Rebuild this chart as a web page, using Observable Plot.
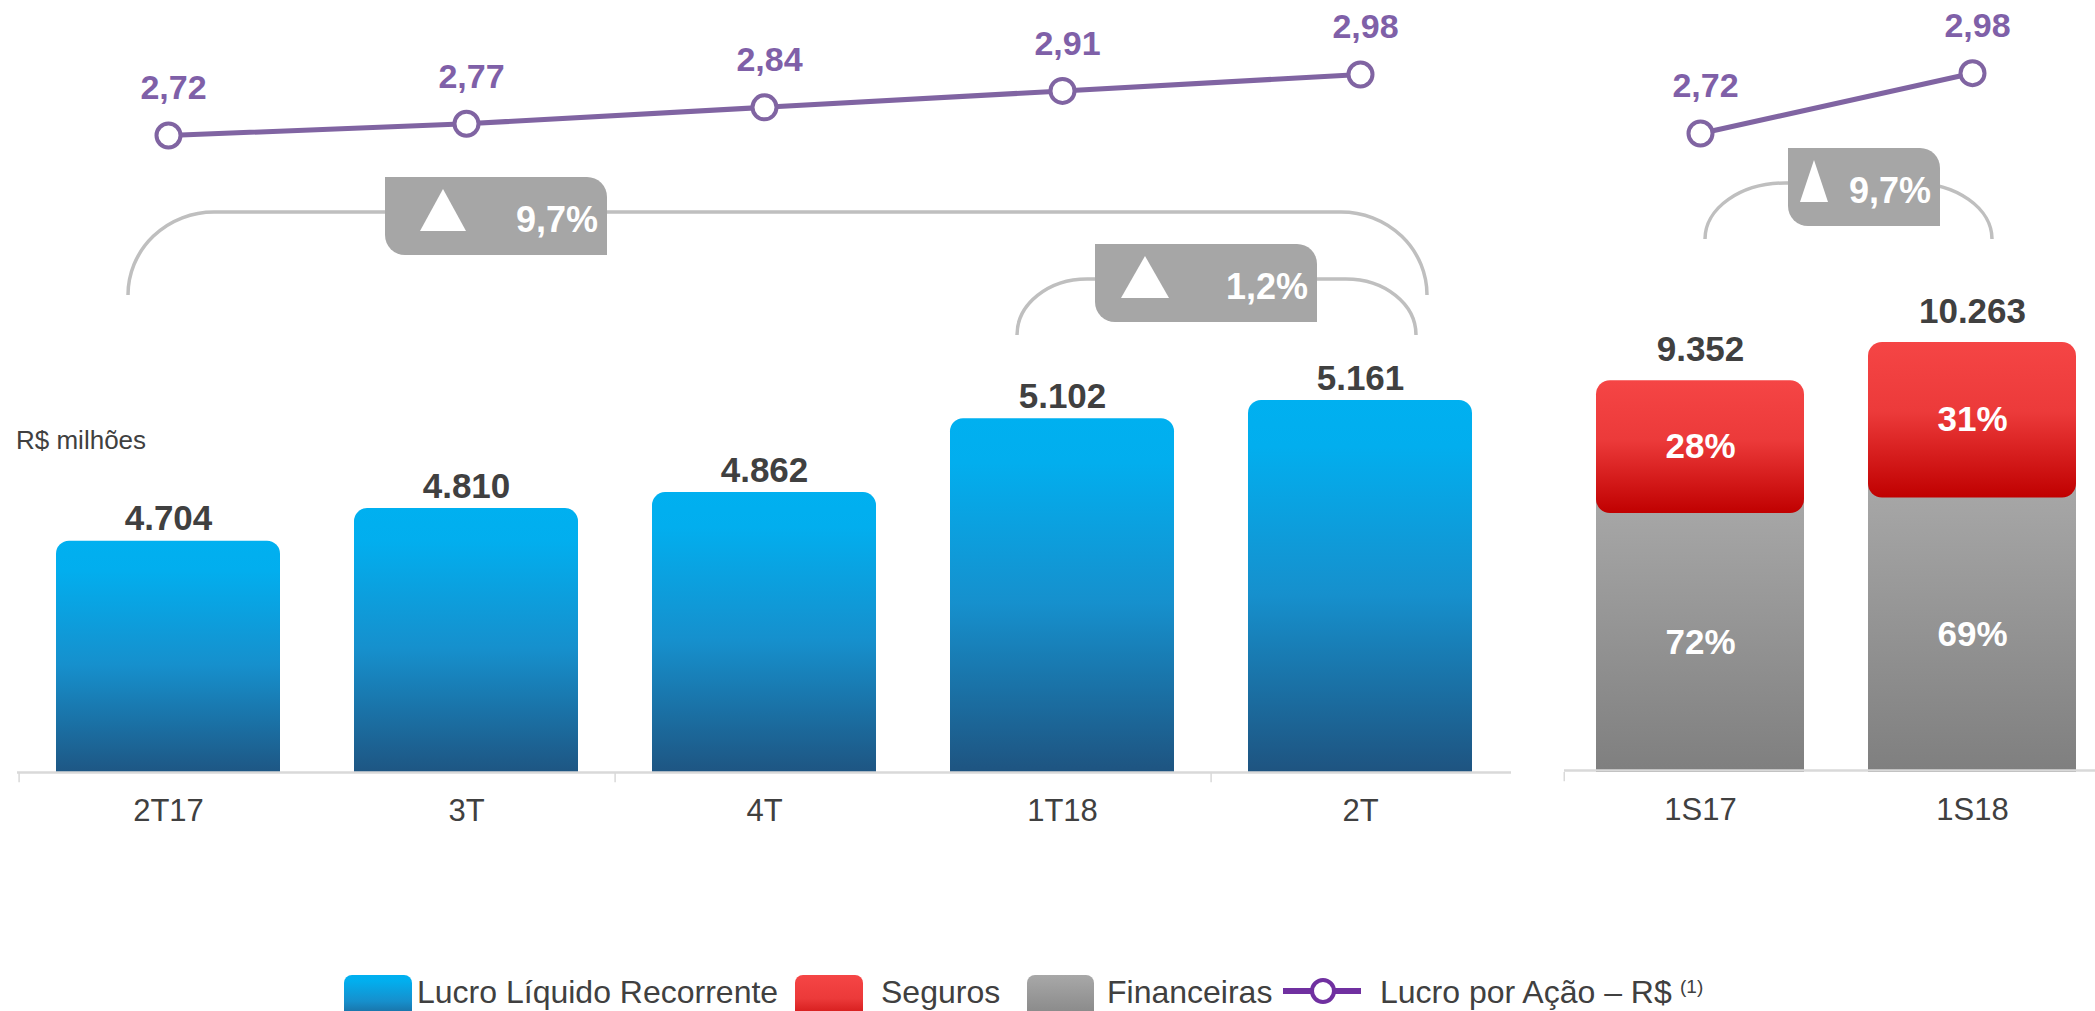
<!DOCTYPE html>
<html>
<head>
<meta charset="utf-8">
<script src="https://cdn.jsdelivr.net/npm/d3@7"></script>
<script src="https://cdn.jsdelivr.net/npm/@observablehq/plot@0.6"></script>
<style>
  body { margin: 0; background: #ffffff; }
  #chart { position: relative; width: 2095px; height: 1011px; overflow: hidden; background: #fff;
           font-family: "Liberation Sans", Arial, Helvetica, sans-serif; color: #404040; }
  .lg { position: absolute; }
  .lg-sw { top: 975px; height: 52px; border-radius: 8px; }
  .lg-tx { top: 976px; font-size: 32px; line-height: 32px; white-space: nowrap; color: #404040; }
  .unit { position: absolute; left: 16px; top: 427px; font-size: 26px; line-height: 26px; color: #404040; white-space: nowrap; }
</style>
</head>
<body>
<div id="chart"></div>
<script>
// ---------------- data ----------------
const quarters = ["2T17", "3T", "4T", "1T18", "2T"];
const lucro = [4704, 4810, 4862, 5102, 5161];
const lucroLabels = ["4.704", "4.810", "4.862", "5.102", "5.161"];
const epsQuarter = [2.72, 2.77, 2.84, 2.91, 2.98];
const epsQuarterLabels = ["2,72", "2,77", "2,84", "2,91", "2,98"];

const semesters = ["1S17", "1S18"];
const totalSem = [9352, 10263];
const totalSemLabels = ["9.352", "10.263"];
const financeiras = [6180, 6550];   // grey segment as drawn
const seguros = [3172, 3713];       // red segment as drawn
const financeirasPct = ["72%", "69%"];
const segurosPct = ["28%", "31%"];
const epsSem = [2.72, 2.98];
const epsSemLabels = ["2,72", "2,98"];

const growthQuarter = [
  {from: "2T17", to: "2T", label: "9,7%"},
  {from: "1T18", to: "2T", label: "1,2%"}
];
const growthSem = [{from: "1S17", to: "1S18", label: "9,7%"}];

const legendLabels = ["Lucro Líquido Recorrente", "Seguros", "Financeiras", "Lucro por Ação – R$"];
const legendNote = "(1)";
const unitLabel = "R$ milhões";

// ---------------- tables ----------------
const leftRows = quarters.map((q, i) => ({q, v: lucro[i], label: lucroLabels[i], eps: epsQuarter[i], epsLabel: epsQuarterLabels[i]}));
const rightRows = semesters.map((s, i) => ({s, total: totalSem[i], label: totalSemLabels[i], fin: financeiras[i], seg: seguros[i],
  finPct: financeirasPct[i], segPct: segurosPct[i], eps: epsSem[i], epsLabel: epsSemLabels[i]}));

// ---------------- styling ----------------
const FONT = "'Liberation Sans', Arial, Helvetica, sans-serif";
const W = 2095, H = 960;
const svgStyle = `background:transparent;overflow:visible;position:absolute;left:0;top:0;font-family:${FONT};`;
const BLUE = [[0, "#00B0F0"], [0.12, "#02AEEE"], [0.5, "#1690CD"], [1, "#1F4E79"]];
const RED = [[0, "#F54545"], [0.45, "#EC3A3A"], [1, "#C00000"]];
const GRAY = [[0, "#A8A8A8"], [1, "#7F7F7F"]];
const PURPLE = "#8064A2";
const AXIS = "#D9D9D9";
const TEXT = "#404040";

function gradientDefs(list) {
  return () => {
    const defs = d3.create("svg:defs");
    for (const [id, stops] of list) {
      const g = defs.append("linearGradient").attr("id", id).attr("x1", 0).attr("y1", 0).attr("x2", 0).attr("y2", 1);
      for (const [o, c] of stops) g.append("stop").attr("offset", o).attr("stop-color", c);
    }
    return defs.node();
  };
}

// left band scale
const L = {ml: 17, mr: 584, pi: 0.247, po: 0.1235};
const leftX = {type: "band", domain: quarters, paddingInner: L.pi, paddingOuter: L.po, axis: null};
const lStep = (W - L.ml - L.mr) / (quarters.length - L.pi + 2 * L.po);
// right band scale
const R = {ml: 1564, r0: 1596, r1: 2077, pi: 0.235};
const rightX = {type: "band", domain: semesters, range: [R.r0, R.r1], paddingInner: R.pi, paddingOuter: 0, axis: null};
const rStep = (R.r1 - R.r0) / (semesters.length - R.pi);
const rBw = rStep * (1 - R.pi);

// ---------------- left bars ----------------
const leftBars = Plot.plot({
  width: W, height: H,
  marginLeft: L.ml, marginRight: L.mr, marginTop: 400, marginBottom: H - 773,
  style: svgStyle,
  x: leftX,
  y: {domain: [3950, 5161], axis: null},
  marks: [
    gradientDefs([["gBlue", BLUE]]),
    Plot.barY(leftRows, {x: "q", y1: 3900, y2: "v", fill: "url(#gBlue)", rx: 13, clip: true}),
    Plot.ruleY([3950], {stroke: AXIS, strokeWidth: 2.5, dy: -1}),
    Plot.ruleX(["2T17", "4T", "2T"], {x: d => d, y1: 3950, y2: 3920, stroke: AXIS, strokeWidth: 1.5, dx: -lStep / 2}),
    Plot.text(leftRows, {x: "q", y: "v", text: "label", dy: -11, lineAnchor: "bottom", fontSize: 35, fontWeight: "bold", fill: TEXT}),
    Plot.text(leftRows, {x: "q", text: "q", frameAnchor: "bottom", dy: 25, lineAnchor: "top", fontSize: 31, fill: TEXT})
  ]
});

// ---------------- right bars ----------------
const rightBars = Plot.plot({
  width: W, height: H,
  marginLeft: R.ml, marginRight: 0, marginTop: 342, marginBottom: H - 772,
  style: svgStyle,
  x: rightX,
  y: {domain: [0, 10263], axis: null},
  marks: [
    gradientDefs([["gRed", RED], ["gGray", GRAY]]),
    Plot.barY(rightRows, {x: "s", y1: 0, y2: "fin", insetTop: -16, fill: "url(#gGray)"}),
    Plot.barY(rightRows, {x: "s", y1: "fin", y2: d => d.fin + d.seg, rx: 14, fill: "url(#gRed)"}),
    Plot.ruleY([0], {stroke: AXIS, strokeWidth: 2.5, dy: -2}),
    Plot.ruleX(["1S17"], {x: d => d, y1: 0, y2: -220, stroke: AXIS, strokeWidth: 1.5, dx: R.ml - (R.r0 + rBw / 2)}),
    Plot.text(rightRows, {x: "s", y: "total", text: "label", dy: -20, lineAnchor: "bottom", fontSize: 35, fontWeight: "bold", fill: TEXT}),
    Plot.text(rightRows, {x: "s", y: d => d.fin + d.seg / 2, text: "segPct", lineAnchor: "middle", fontSize: 35, fontWeight: "bold", fill: "white"}),
    Plot.text(rightRows, {x: "s", y: d => d.fin / 2, text: "finPct", lineAnchor: "middle", fontSize: 35, fontWeight: "bold", fill: "white"}),
    Plot.text(rightRows, {x: "s", text: "s", frameAnchor: "bottom", dy: 25, lineAnchor: "top", fontSize: 31, fill: TEXT})
  ]
});

// ---------------- EPS lines ----------------
function epsPlot(rows, xKey, xOpts, margins, yRange) {
  return Plot.plot({
    width: W, height: H,
    marginLeft: margins[0], marginRight: margins[1], marginTop: 0, marginBottom: 0,
    style: svgStyle,
    x: xOpts,
    y: {domain: [2.72, 2.98], range: yRange, axis: null},
    marks: [
      Plot.line(rows, {x: xKey, y: "eps", stroke: PURPLE, strokeWidth: 5}),
      Plot.dot(rows, {x: xKey, y: "eps", r: 12, fill: "white", stroke: PURPLE, strokeWidth: 4}),
      Plot.text(rows, {x: xKey, y: "eps", text: "epsLabel", dy: -47, dx: 5, lineAnchor: "middle", fontSize: 34, fontWeight: "bold", fill: "#7F60A8"})
    ]
  });
}
const leftLine = epsPlot(leftRows, "q", leftX, [L.ml, L.mr], [135, 74]);
const rightLine = epsPlot(rightRows, "s", rightX, [R.ml, 0], [133, 72.7]);

// ---------------- growth brackets ----------------
const bracketLayout = [
  {plot: leftLine, spec: growthQuarter[0], dl: -40, dr: 67, yTop: 212, yBot: 295, rx: 86, badgeLeft: 257, badgeW: 222, triW: 46, triLeft: 35},
  {plot: leftLine, spec: growthQuarter[1], dl: -45, dr: 56, yTop: 279, yBot: 335, rx: 70, badgeLeft: 78, badgeW: 222, triW: 48, triLeft: 26},
  {plot: rightLine, spec: growthSem[0], dl: 5, dr: 20, yTop: 183, yBot: 239, rx: 80, badgeLeft: 83, badgeW: 152, triW: 28, triLeft: 12}
];
function bandCenter(plot, key) {
  const s = plot.scale("x");
  return s.apply(key) + (s.bandwidth || 0) / 2;
}
for (const b of bracketLayout) {
  const g = d3.select(b.plot).append("g");
  const xl = bandCenter(b.plot, b.spec.from) + b.dl;
  const xr = bandCenter(b.plot, b.spec.to) + b.dr;
  const ry = b.yBot - b.yTop;
  g.append("path")
    .attr("d", `M${xl},${b.yBot} A${b.rx},${ry} 0 0 1 ${xl + b.rx},${b.yTop} L${xr - b.rx},${b.yTop} A${b.rx},${ry} 0 0 1 ${xr},${b.yBot}`)
    .attr("fill", "none").attr("stroke", "#BFBFBF").attr("stroke-width", 3.5);
  const bx = xl + b.badgeLeft, by = b.yTop - 35, bw = b.badgeW, bh = 78, r = 20;
  g.append("path")
    .attr("d", `M${bx},${by} L${bx + bw - r},${by} A${r},${r} 0 0 1 ${bx + bw},${by + r} L${bx + bw},${by + bh} L${bx + r},${by + bh} A${r},${r} 0 0 1 ${bx},${by + bh - r} Z`)
    .attr("fill", "#A6A6A6");
  const tx = bx + b.triLeft, ty = by + 12, th = 42;
  g.append("path").attr("d", `M${tx},${ty + th} L${tx + b.triW / 2},${ty} L${tx + b.triW},${ty + th} Z`).attr("fill", "white");
  g.append("text").attr("x", bx + bw - 9).attr("y", by + bh / 2 + 3).attr("dy", "0.35em")
    .attr("text-anchor", "end").attr("fill", "white").attr("font-size", 36).attr("font-weight", "bold")
    .text(b.spec.label);
}

// ---------------- assemble ----------------
const chart = document.getElementById("chart");
chart.append(leftBars, rightBars, leftLine, rightLine);

const unit = document.createElement("div");
unit.className = "unit";
unit.textContent = unitLabel;
chart.append(unit);

// legend (below the plot area)
function el(cls, left, extra) {
  const d = document.createElement("div");
  d.className = "lg " + cls;
  d.style.left = left + "px";
  if (extra) Object.assign(d.style, extra);
  chart.append(d);
  return d;
}
const css = stops => `linear-gradient(to bottom, ${stops.map(([o, c]) => `${c} ${o * 100}%`).join(", ")})`;
el("lg-sw", 344, {width: "68px", background: css(BLUE)});
el("lg-tx", 417).textContent = legendLabels[0];
el("lg-sw", 795, {width: "68px", background: css(RED)});
el("lg-tx", 881).textContent = legendLabels[1];
el("lg-sw", 1027, {width: "67px", background: css(GRAY)});
el("lg-tx", 1107).textContent = legendLabels[2];
const sym = el("", 1283, {top: "976px", width: "78px", height: "30px"});
const symSvg = d3.select(sym).append("svg").attr("width", 78).attr("height", 30);
symSvg.append("line").attr("x1", 0).attr("x2", 78).attr("y1", 15).attr("y2", 15).attr("stroke", "#7030A0").attr("stroke-width", 6);
symSvg.append("circle").attr("cx", 40).attr("cy", 15).attr("r", 11).attr("fill", "white").attr("stroke", "#7030A0").attr("stroke-width", 4);
el("lg-tx", 1380).textContent = legendLabels[3];
el("lg-tx", 1680, {top: "977px", fontSize: "19px", lineHeight: "19px"}).textContent = legendNote;
</script>
</body>
</html>
